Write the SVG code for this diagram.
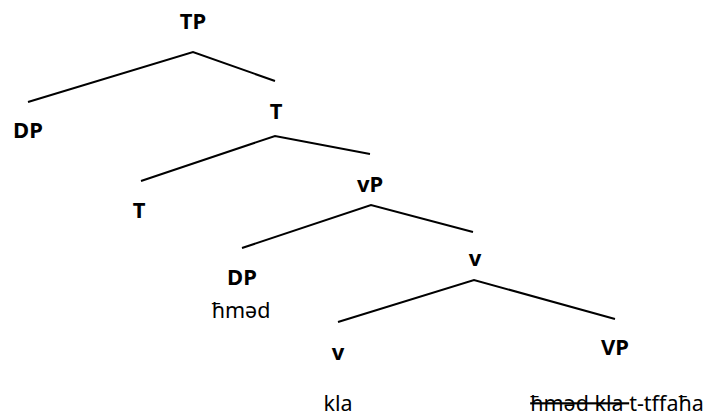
<svg xmlns="http://www.w3.org/2000/svg" width="708" height="417" viewBox="0 0 708 417">
<style>
.lbl{font-family:"Noto Sans","Open Sans","DejaVu Sans",sans-serif;font-weight:bold;font-size:22px;fill:#000;text-anchor:middle}
.word{font-family:"Noto Sans","Open Sans","DejaVu Sans",sans-serif;font-size:21.5px;fill:#000;text-anchor:middle}
.edge{stroke:#000;stroke-width:2;fill:none}
</style>
<rect width="708" height="417" fill="#fff"/>
<g id="connectors">
<polyline class="edge" points="28,102 193,52 275,81"/>
<polyline class="edge" points="141,181 275,136 370,154"/>
<polyline class="edge" points="242,248 371,205 473,232"/>
<polyline class="edge" points="338,322 474,280 615,319"/>
</g>
<g id="n-TP"><text class="lbl" x="193" y="29">TP</text></g>
<g id="n-DP1"><text class="lbl" x="28" y="138">DP</text></g>
<g id="n-T1"><text class="lbl" x="276" y="119">T</text></g>
<g id="n-T2"><text class="lbl" x="139" y="218">T</text></g>
<g id="n-vP"><text class="lbl" x="370" y="192">vP</text></g>
<g id="n-DP2"><text class="lbl" x="242" y="285">DP</text><text class="word" x="241" y="318">ħməd</text></g>
<g id="n-v1"><text class="lbl" x="475" y="266">v</text></g>
<g id="n-v2"><text class="lbl" x="338" y="360">v</text><text class="word" x="338" y="411">kla</text></g>
<g id="n-VP"><text class="word" x="617" y="411" text-anchor="middle"><tspan text-decoration="line-through">ħməd kla </tspan><tspan>t-tffaħa</tspan></text><text class="lbl" x="615" y="355">VP</text></g>
</svg>
